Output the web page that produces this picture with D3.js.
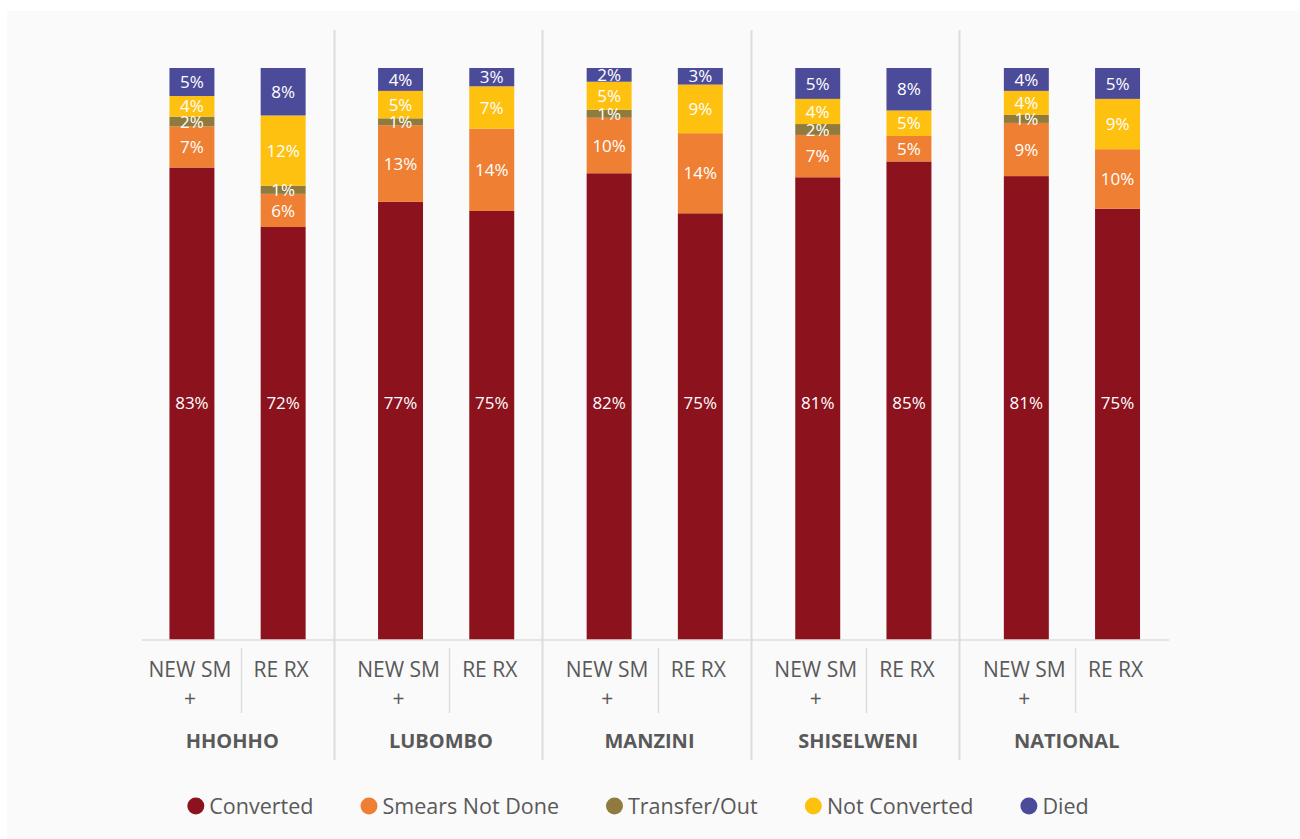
<!DOCTYPE html>
<html>
<head>
<meta charset="utf-8">
<script src="https://cdn.jsdelivr.net/npm/d3@7"></script>
<style>
  html, body { margin: 0; padding: 0; background: #ffffff; }
  svg { display: block; font-family: "Open Sans", "Noto Sans", sans-serif; }
</style>
</head>
<body>
<svg id="chart" width="1300" height="839"></svg>
<script>
// Treatment outcome shares (%) per region, two patient types per region
const regions = ["HHOHHO", "LUBOMBO", "MANZINI", "SHISELWENI", "NATIONAL"];
const patientTypes = ["NEW SM +", "RE RX"];
const seriesNames = ["Converted", "Smears Not Done", "Transfer/Out", "Not Converted", "Died"];
const seriesColors = ["#8c121d", "#ee7f33", "#8f7b3e", "#fec10f", "#4c4b9a"];

// Values in order: HHOHHO new, HHOHHO re, LUBOMBO new, LUBOMBO re, ... NATIONAL re
const converted     = [82.6, 72.2, 76.6, 75.0, 81.6, 74.6, 80.9, 84.5, 81.1, 75.4];
const smearsNotDone = [ 7.2,  5.8, 13.4, 14.4,  9.7, 14.0,  7.4,  4.5,  9.3, 10.4];
const transferOut   = [ 1.7,  1.4,  1.2,  0.0,  1.4,  0.0,  1.9,  0.0,  1.4,  0.0];
const notConverted  = [ 3.6, 12.3,  4.8,  7.4,  4.9,  8.5,  4.4,  4.5,  4.2,  8.8];
const died          = [ 4.9,  8.3,  4.0,  3.2,  2.4,  2.9,  5.4,  7.5,  4.0,  5.4];

const seriesValues = [converted, smearsNotDone, transferOut, notConverted, died];

// Build one row per bar
const rows = [];
regions.forEach((r, gi) => {
  patientTypes.forEach((t, ti) => {
    const i = gi * patientTypes.length + ti;
    const row = { region: r, type: t };
    seriesNames.forEach((s, si) => { row[s] = seriesValues[si][i]; });
    rows.push(row);
  });
});

const svg = d3.select("#chart");
const W = 1300, H = 839;

// Backdrop
svg.append("rect").attr("width", W).attr("height", H).attr("fill", "#ffffff");
svg.append("rect").attr("x", 7).attr("y", 11).attr("width", W - 7).attr("height", H - 11).attr("fill", "#fafafa");

// Layout
const plotTop = 68, plotBottom = 640;
const axisLeft = 142, axisRight = 1169;
const gridColor = "#dcdcdc";
const textColor = "#595959";

const xGroup = d3.scaleBand().domain(regions).range([126, 1169]).paddingInner(0).paddingOuter(0);
const xInner = d3.scaleBand().domain(patientTypes).range([0, xGroup.bandwidth()])
  .paddingInner(0.507).paddingOuter(0.397).align(0.6);
const y = d3.scaleLinear().domain([0, 1]).range([plotBottom, plotTop]);

const barX = d => xGroup(d.region) + xInner(d.type);

// Stack, normalised to 100%
const stack = d3.stack().keys(seriesNames).offset(d3.stackOffsetExpand);
const stacked = stack(rows);

const layers = svg.append("g").selectAll("g.layer")
  .data(stacked)
  .join("g")
  .attr("class", "layer")
  .attr("fill", (d, i) => seriesColors[i]);

layers.selectAll("rect")
  .data(d => d)
  .join("rect")
  .attr("x", d => barX(d.data))
  .attr("width", xInner.bandwidth())
  .attr("y", d => y(d[1]))
  .attr("height", d => Math.max(0, y(d[0]) - y(d[1])));

// Value labels; the base series labels share one common height
const baseLabelLevel = 0.415;
const labelG = svg.append("g")
  .attr("font-size", 17)
  .attr("fill", "#ffffff")
  .attr("text-anchor", "middle");

stacked.forEach((layer, li) => {
  layer.forEach(seg => {
    const v = seg.data[layer.key];
    if (!v) return;
    const ly = li === 0 ? y(baseLabelLevel) : (y(seg[0]) + y(seg[1])) / 2;
    labelG.append("text")
      .attr("x", barX(seg.data) + xInner.bandwidth() / 2)
      .attr("y", ly)
      .attr("dy", "0.36em")
      .text(Math.round(v) + "%");
  });
});

// Category axis baseline
svg.append("line")
  .attr("x1", axisLeft).attr("x2", axisRight)
  .attr("y1", plotBottom).attr("y2", plotBottom)
  .attr("stroke", gridColor).attr("stroke-width", 1.5);

// Separators between regions
regions.slice(1).forEach(r => {
  const sx = Math.round(xGroup(r)) - 0.5;
  svg.append("line")
    .attr("x1", sx).attr("x2", sx)
    .attr("y1", 30).attr("y2", 760)
    .attr("stroke", gridColor).attr("stroke-width", 2);
});

// Separators between patient types, and the type labels
regions.forEach(r => {
  const c0 = xGroup(r) + xInner(patientTypes[0]) + xInner.bandwidth() / 2;
  const c1 = xGroup(r) + xInner(patientTypes[1]) + xInner.bandwidth() / 2;
  const sx = Math.round((c0 + c1) / 2 + 4) - 0.5;
  svg.append("line")
    .attr("x1", sx).attr("x2", sx)
    .attr("y1", 648).attr("y2", 713)
    .attr("stroke", gridColor).attr("stroke-width", 1.5);

  patientTypes.forEach(t => {
    const cx = xGroup(r) + xInner(t) + xInner.bandwidth() / 2 - 2;
    const parts = t.split(" +");
    const txt = svg.append("text")
      .attr("x", cx)
      .attr("y", 669)
      .attr("dy", "0.36em")
      .attr("text-anchor", "middle")
      .attr("font-size", 21)
      .attr("fill", textColor);
    txt.append("tspan").attr("x", cx).text(parts[0]);
    if (t.includes("+")) {
      txt.append("tspan").attr("x", cx).attr("dy", 29).text("+");
    }
  });

  svg.append("text")
    .attr("x", xGroup(r) + xGroup.bandwidth() / 2 + 2)
    .attr("y", 741)
    .attr("dy", "0.36em")
    .attr("text-anchor", "middle")
    .attr("font-size", 20)
    .attr("font-weight", 700)
    .attr("fill", textColor)
    .text(r);
});

// Legend
const legend = svg.append("g").attr("transform", "translate(0,806)");
const items = legend.selectAll("g.item")
  .data(seriesNames)
  .join("g")
  .attr("class", "item");
items.append("circle")
  .attr("r", 8.5)
  .attr("cx", 8.5)
  .attr("fill", (d, i) => seriesColors[i]);
items.append("text")
  .attr("x", 22)
  .attr("dy", "0.36em")
  .attr("font-size", 21.5)
  .attr("fill", textColor)
  .text(d => d);

const gap = 47;
const widths = [];
items.each(function () { widths.push(this.getBBox().width); });
const total = d3.sum(widths) + gap * (widths.length - 1);
let offset = 638 - total / 2;
items.attr("transform", (d, i) => {
  const tx = offset;
  offset += widths[i] + gap;
  return `translate(${tx},0)`;
});
</script>
</body>
</html>
